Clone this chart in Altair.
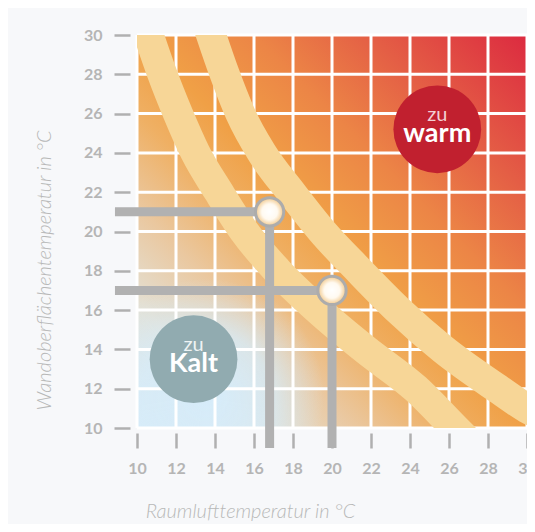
import altair as alt
import pandas as pd

# ---------------- data ----------------
ticks = [10, 12, 14, 16, 18, 20, 22, 24, 26, 28, 30]

# comfort-zone boundary bands
left_band_x = [10.4, 10.6, 11.3, 12.1, 13.0, 14.2, 15.5, 17.2, 19.3, 21.7, 24.3, 26.3, 26.9]
left_band_y = [30.6, 30.0, 28.0, 26.0, 24.0, 22.0, 20.0, 18.0, 16.0, 14.0, 12.0, 10.0, 9.4]
right_band_x = [13.6, 13.8, 14.5, 15.3, 16.4, 17.9, 19.5, 21.4, 23.4, 25.7, 28.5, 30.0, 30.8]
right_band_y = [30.6, 30.0, 28.0, 26.0, 24.0, 22.0, 20.0, 18.0, 16.0, 14.0, 12.0, 11.0, 10.6]

# example points with reference lines
points_x = [16.8, 20.0]
points_y = [21.0, 17.0]
ref_start_x = 8.87   # horizontal reference lines start left of the axis
ref_end_y = 8.98     # vertical reference lines end below the axis

# zone badges
zone_prefix = ["zu", "zu"]
zone_label = ["warm", "Kalt"]
zone_x = [25.4, 12.9]
zone_y = [25.2, 13.5]
zone_color = ["#c1202f", "#91abb0"]
zone_prefix_color = ["#f3cfd3", "#eef3f4"]

# ---------------- scales / axes ----------------
sx = alt.Scale(domain=[10, 30], nice=False, zero=False)
sy = alt.Scale(domain=[10, 30], nice=False, zero=False)

common_axis = dict(
    values=ticks, grid=False, domain=False,
    tickWidth=2.5, tickColor="#b0b0b0",
    labelPadding=12, labelFont="Lato", labelFontSize=16,
    labelFontWeight="bold", labelColor="#b5b5b5",
    labelFlush=False, labelOverlap=False,
    titleFont="Lato", titleFontSize=20, titleFontStyle="italic",
    titleFontWeight=300, titleColor="#b8b8b8",
)
axis_x = alt.Axis(title="Raumlufttemperatur in °C", offset=5, tickSize=15,
                  titleX=113, titleY=84, titleBaseline="alphabetic",
                  titleAlign="center", **common_axis)
axis_y = alt.Axis(title="Wandoberflächentemperatur in °C", offset=7, tickSize=16,
                  titleX=-80, titleY=235, titleAngle=270, titleBaseline="alphabetic",
                  titleAlign="center", **common_axis)


def X(f):
    return alt.X(f, type="quantitative", scale=sx, axis=axis_x)


def Y(f):
    return alt.Y(f, type="quantitative", scale=sy, axis=axis_y)


# ---------------- layers ----------------
area = pd.DataFrame({"x": [ticks[0]], "x2": [ticks[-1]], "y": [ticks[0]], "y2": [ticks[-1]]})

main_grad = alt.Gradient(
    gradient="linear",
    stops=[
        alt.GradientStop(offset=0.0, color="#d8ecf8"),
        alt.GradientStop(offset=0.15, color="#e3e1d6"),
        alt.GradientStop(offset=0.28, color="#eac8a0"),
        alt.GradientStop(offset=0.40, color="#efb064"),
        alt.GradientStop(offset=0.50, color="#f0a046"),
        alt.GradientStop(offset=0.65, color="#ec8546"),
        alt.GradientStop(offset=0.80, color="#e45e45"),
        alt.GradientStop(offset=1.0, color="#dc2a40"),
    ],
    x1=0, y1=1, x2=1, y2=0,
)
bg = alt.Chart(area).mark_rect(fill=main_grad, strokeWidth=0).encode(
    x=X("x"), x2="x2", y=Y("y"), y2="y2")

blue_grad = alt.Gradient(
    gradient="radial",
    stops=[
        alt.GradientStop(offset=0.0, color="rgba(214,236,250,1)"),
        alt.GradientStop(offset=0.55, color="rgba(214,236,250,0.75)"),
        alt.GradientStop(offset=1.0, color="rgba(214,236,250,0)"),
    ],
    x1=0.18, y1=0.92, r1=0, x2=0.18, y2=0.92, r2=0.3,
)
blue = alt.Chart(area).mark_rect(fill=blue_grad, strokeWidth=0).encode(
    x=X("x"), x2="x2", y=Y("y"), y2="y2")

grid_rows = []
for v in ticks:
    grid_rows.append({"x": v, "x2": v, "y": ticks[0], "y2": ticks[-1]})
    grid_rows.append({"x": ticks[0], "x2": ticks[-1], "y": v, "y2": v})
grid = alt.Chart(pd.DataFrame(grid_rows)).mark_rule(color="white", strokeWidth=3).encode(
    x=X("x"), x2="x2", y=Y("y"), y2="y2")

band_df = pd.concat([
    pd.DataFrame({"x": left_band_x, "y": left_band_y, "band": "links"}),
    pd.DataFrame({"x": right_band_x, "y": right_band_y, "band": "rechts"}),
])
bands = alt.Chart(band_df).mark_line(
    strokeWidth=30, color="#f7d697", clip=True, interpolate="monotone"
).encode(x=X("x"), y=Y("y"), detail="band:N")

ref_rows = []
for px, py in zip(points_x, points_y):
    ref_rows.append({"x": ref_start_x, "x2": px, "y": py, "y2": py})
    ref_rows.append({"x": px, "x2": px, "y": py, "y2": ref_end_y})
refs = alt.Chart(pd.DataFrame(ref_rows)).mark_rule(color="#b1b1b1", strokeWidth=9).encode(
    x=X("x"), x2="x2", y=Y("y"), y2="y2")

pt_grad = alt.Gradient(
    gradient="radial",
    stops=[
        alt.GradientStop(offset=0.0, color="#ffffff"),
        alt.GradientStop(offset=0.55, color="#fffaf1"),
        alt.GradientStop(offset=1.0, color="#f2c88a"),
    ],
    x1=0.5, y1=0.5, r1=0, x2=0.5, y2=0.5, r2=0.5,
)
pts = alt.Chart(pd.DataFrame({"x": points_x, "y": points_y})).mark_circle(
    size=800, fill=pt_grad, stroke="#acacac", strokeWidth=3, opacity=1
).encode(x=X("x"), y=Y("y"))

zone_df = pd.DataFrame({
    "x": zone_x, "y": zone_y, "prefix": zone_prefix, "label": zone_label,
    "color": zone_color, "pcolor": zone_prefix_color,
})
zones = alt.Chart(zone_df).mark_circle(size=7700, opacity=1).encode(
    x=X("x"), y=Y("y"), color=alt.Color("color:N", scale=None))
zprefix = alt.Chart(zone_df).mark_text(
    font="Lato", fontSize=20, dy=-8, baseline="alphabetic", align="center"
).encode(x=X("x"), y=Y("y"), text="prefix:N", color=alt.Color("pcolor:N", scale=None))
zlabel = alt.Chart(zone_df).mark_text(
    font="Lato", fontSize=27, fontWeight="bold", dy=13, baseline="alphabetic",
    align="center", color="white"
).encode(x=X("x"), y=Y("y"), text="label:N")

chart = alt.layer(bg, blue, grid, bands, refs, pts, zones, zprefix, zlabel).properties(
    width=390, height=393,
    padding={"left": 129, "top": 27, "right": 0, "bottom": 96},
    autosize=alt.AutoSizeParams(type="none"),
    background="#f7f8fa",
).configure_view(strokeWidth=0)

chart.save("out.html", embed_options={"renderer": "svg", "actions": False})
